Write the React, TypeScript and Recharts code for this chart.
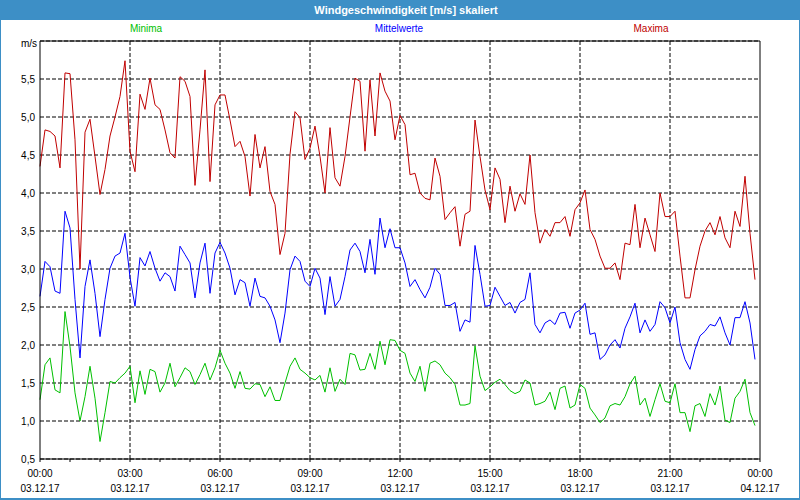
import { LineChart, Line, XAxis, YAxis, CartesianGrid, ReferenceLine } from "recharts";

// 10-minute values, 03.12.17 00:00 .. 23:50
const MAXIMA = [
  4.35, 4.83, 4.81, 4.75, 4.33, 5.58, 5.57, 4.7, 3.0, 4.8, 4.97, 4.48, 3.98, 4.31, 4.75, 5.0, 5.27, 5.74, 4.55, 4.28,
  5.3, 5.1, 5.51, 5.16, 5.1, 4.83, 4.53, 4.46, 5.53, 5.47, 5.27, 4.1, 4.83, 5.62, 4.15, 5.16, 5.29, 5.29, 4.96, 4.61,
  4.68, 4.48, 3.96, 4.77, 4.33, 4.61, 4.02, 3.85, 3.19, 3.47, 4.51, 5.07, 4.99, 4.44, 4.59, 4.88, 4.48, 4.0, 4.86, 4.2,
  4.09, 4.48, 5.0, 5.51, 5.47, 4.55, 5.49, 4.75, 5.58, 5.34, 5.21, 4.7, 5.02, 4.9, 4.24, 4.26, 4.0, 3.93, 3.91, 4.46,
  4.22, 3.65, 3.74, 3.82, 3.3, 3.72, 3.76, 4.96, 4.48, 4.04, 3.78, 4.33, 4.18, 3.61, 4.09, 3.76, 3.99, 3.85, 4.5, 3.74,
  3.34, 3.52, 3.43, 3.61, 3.61, 3.69, 3.43, 3.78, 3.87, 4.04, 3.52, 3.39, 3.17, 3.01, 3.01, 3.08, 2.86, 3.34, 3.32, 3.85,
  3.28, 3.67, 3.45, 3.23, 4.0, 3.69, 3.69, 3.76, 3.17, 2.62, 2.62, 2.99, 3.3, 3.5, 3.61, 3.45, 3.69, 3.41, 3.28, 3.76,
  3.56, 4.22, 3.47, 2.86,
];

const MITTELWERTE = [
  2.64, 3.1, 3.03, 2.71, 2.68, 3.76, 3.54, 2.6, 1.83, 2.77, 3.12, 2.68, 2.11, 2.6, 3.01, 3.17, 3.21, 3.47, 2.89, 2.51,
  3.15, 3.04, 3.23, 3.01, 2.84, 2.95, 2.9, 2.71, 3.3, 3.19, 3.08, 2.62, 3.08, 3.34, 2.68, 3.21, 3.35, 3.21, 3.01, 2.66,
  2.86, 2.82, 2.51, 2.88, 2.64, 2.62, 2.51, 2.33, 2.03, 2.42, 2.99, 3.17, 3.1, 2.84, 2.77, 3.01, 2.88, 2.4, 2.9, 2.51,
  2.6, 2.9, 3.25, 3.34, 3.23, 2.95, 3.39, 2.93, 3.67, 3.28, 3.53, 3.28, 3.28, 3.08, 2.77, 2.86, 2.73, 2.62, 2.76, 3.01,
  2.93, 2.52, 2.52, 2.56, 2.18, 2.33, 2.3, 3.31, 2.93, 2.51, 2.52, 2.76, 2.64, 2.52, 2.56, 2.42, 2.56, 2.6, 2.95, 2.27,
  2.16, 2.29, 2.33, 2.27, 2.42, 2.43, 2.22, 2.42, 2.46, 2.55, 2.14, 2.16, 1.81, 1.87, 2.0, 2.07, 1.96, 2.22, 2.37, 2.55,
  2.16, 2.33, 2.18, 2.27, 2.57, 2.49, 2.29, 2.5, 2.03, 1.81, 1.68, 1.94, 2.12, 2.18, 2.27, 2.25, 2.37, 2.16, 2.0, 2.36,
  2.36, 2.57, 2.29, 1.81,
];

const MINIMA = [
  1.28, 1.74, 1.83, 1.41, 1.37, 2.44, 1.98, 1.37, 1.0, 1.32, 1.72, 1.3, 0.73, 1.11, 1.52, 1.5, 1.57, 1.63, 1.72, 1.24,
  1.66, 1.35, 1.68, 1.65, 1.38, 1.5, 1.76, 1.45, 1.57, 1.7, 1.65, 1.48, 1.61, 1.76, 1.54, 1.7, 1.93, 1.76, 1.63, 1.43,
  1.65, 1.43, 1.42, 1.49, 1.48, 1.32, 1.45, 1.27, 1.27, 1.5, 1.72, 1.83, 1.68, 1.63, 1.57, 1.54, 1.6, 1.38, 1.7, 1.39,
  1.55, 1.48, 1.89, 1.87, 1.67, 1.68, 1.89, 1.68, 2.05, 1.74, 2.07, 2.06, 1.93, 1.89, 1.63, 1.52, 1.72, 1.39, 1.76, 1.79,
  1.74, 1.63, 1.57, 1.48, 1.21, 1.21, 1.23, 1.99, 1.59, 1.4, 1.45, 1.51, 1.55, 1.48, 1.4, 1.36, 1.39, 1.54, 1.5, 1.21,
  1.23, 1.26, 1.38, 1.15, 1.43, 1.46, 1.17, 1.21, 1.48, 1.43, 1.17, 1.08, 0.98, 1.04, 1.2, 1.23, 1.21, 1.32, 1.49, 1.59,
  1.21, 1.3, 1.06, 1.28, 1.49, 1.26, 1.24, 1.49, 1.11, 1.11, 0.86, 1.2, 1.23, 1.06, 1.36, 1.21, 1.46, 1.01, 0.98, 1.3,
  1.39, 1.55, 1.11, 0.94,
];

const Y_TICKS = [0.5, 1, 1.5, 2, 2.5, 3, 3.5, 4, 4.5, 5, 5.5];
const HOUR_TICKS = Array.from({ length: 25 }, (_, h) => h);
const TIME_LABELS = ["00:00", "03:00", "06:00", "09:00", "12:00", "15:00", "18:00", "21:00", "00:00"];
const DATE_LABELS = ["03.12.17", "03.12.17", "03.12.17", "03.12.17", "03.12.17", "03.12.17", "03.12.17", "03.12.17", "04.12.17"];
const GRID_HOURS = [3, 6, 9, 12, 15, 18, 21];

const data = MAXIMA.map((v, i) => ({
  t: i / 6,
  max: v,
  mean: MITTELWERTE[i],
  min: MINIMA[i],
}));

const FONT = "'Liberation Sans', Arial, sans-serif";
const DASH = "4 2";

const TimeTick = (props: any) => {
  const { x, y, payload } = props;
  const h = payload.value;
  if (h % 3 !== 0) return null;
  const k = h / 3;
  return (
    <g>
      <text x={x} y={y + 13} textAnchor="middle" fontSize={10} fontFamily={FONT} fill="#000">
        {TIME_LABELS[k]}
      </text>
      <text x={x} y={y + 28} textAnchor="middle" fontSize={10} fontFamily={FONT} fill="#000">
        {DATE_LABELS[k]}
      </text>
    </g>
  );
};

const legendStyle = (color: string, cx: number): React.CSSProperties => ({
  position: "absolute",
  top: 23,
  left: cx - 60,
  width: 120,
  textAlign: "center",
  fontFamily: FONT,
  fontSize: 10,
  color,
});

export default function App() {
  return (
    <div
      style={{
        position: "fixed",
        left: 0,
        top: 0,
        width: 800,
        height: 500,
        background: "#3d8fc6",
        overflow: "hidden",
      }}
    >
      <div
        style={{
          position: "absolute",
          top: 0,
          left: 0,
          width: 812,
          height: 20,
          lineHeight: "20px",
          textAlign: "center",
          color: "#fff",
          fontWeight: "bold",
          fontFamily: FONT,
          fontSize: 11,
        }}
      >
        Windgeschwindigkeit [m/s] skaliert
      </div>
      <div style={{ position: "absolute", left: 1, top: 20, width: 798, height: 478, background: "#fff" }} />
      <div style={{ position: "absolute", left: 0, top: 0 }}>
        <LineChart width={800} height={500} data={data} margin={{ top: 41, right: 40, left: 0, bottom: 0 }}>
          <CartesianGrid horizontal vertical={false} stroke="#000" strokeDasharray={DASH} />
          <XAxis
            dataKey="t"
            type="number"
            domain={[0, 24]}
            ticks={HOUR_TICKS}
            interval={0}
            height={41}
            tickSize={3}
            tickMargin={2}
            stroke="#000"
            tick={<TimeTick />}
          />
          <YAxis
            type="number"
            domain={[0.5, 6]}
            ticks={Y_TICKS}
            interval={0}
            width={40}
            tickSize={0}
            tickMargin={5}
            stroke="#000"
            tick={{ fontSize: 10, fontFamily: FONT, fill: "#000" }}
            tickFormatter={(v: number) => v.toFixed(1).replace(".", ",")}
          />
          {GRID_HOURS.map((h) => (
            <ReferenceLine key={h} x={h} stroke="#000" strokeDasharray={DASH} />
          ))}
          <ReferenceLine x={24} stroke="#000" />
          <ReferenceLine y={6} stroke="#000" />
          <Line dataKey="min" stroke="#00c000" strokeWidth={1} dot={false} isAnimationActive={false} />
          <Line dataKey="mean" stroke="#0000ff" strokeWidth={1} dot={false} isAnimationActive={false} />
          <Line dataKey="max" stroke="#c00000" strokeWidth={1} dot={false} isAnimationActive={false} />
        </LineChart>
      </div>
      <div style={legendStyle("#00c000", 146)}>Minima</div>
      <div style={legendStyle("#0000ff", 399)}>Mittelwerte</div>
      <div style={legendStyle("#c00000", 651)}>Maxima</div>
      <div
        style={{
          position: "absolute",
          top: 38,
          left: 0,
          width: 37,
          textAlign: "right",
          fontFamily: FONT,
          fontSize: 10,
          color: "#000",
        }}
      >
        m/s
      </div>
    </div>
  );
}
